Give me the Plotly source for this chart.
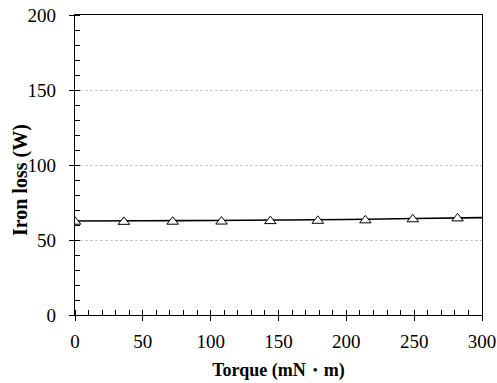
import plotly.graph_objects as go

torque = [0, 36, 72, 108, 144, 179, 214, 249, 282]
iron_loss = [62.2, 62.1, 62.2, 62.3, 62.6, 62.8, 63.1, 63.8, 64.4]
fit_x = [0, 50, 100, 150, 200, 250, 300]
fit_y = [62.7, 62.8, 63.0, 63.3, 63.7, 64.3, 64.9]

x_ticks = [0, 50, 100, 150, 200, 250, 300]
y_ticks = [0, 50, 100, 150, 200]

font = "Liberation Serif"

fig = go.Figure()
fig.add_trace(go.Scatter(x=fit_x, y=fit_y, mode="lines", line=dict(color="black", width=1.6),
                         line_shape="spline", showlegend=False, hoverinfo="skip"))
fig.add_trace(go.Scatter(x=torque, y=iron_loss, mode="markers",
                         marker=dict(symbol="triangle-up", size=10, color="white",
                                     line=dict(color="black", width=1)),
                         showlegend=False))
# invisible trace to carry the overlay axes (inner half of crossing major ticks)
fig.add_trace(go.Scatter(x=[0], y=[0], xaxis="x2", yaxis="y2", mode="markers",
                         marker=dict(opacity=0), showlegend=False, hoverinfo="skip"))

fig.update_layout(
    width=497, height=383,
    margin=dict(l=75, r=15, t=15, b=68),
    plot_bgcolor="white", paper_bgcolor="white",
    font=dict(family=font, size=19, color="black"),
    xaxis=dict(
        range=[0, 300], tickvals=x_ticks, ticks="outside", ticklen=5, tickcolor="black",
        showline=True, linecolor="black", linewidth=1.2, mirror=True,
        showgrid=False, zeroline=False, automargin=False,
        ticklabelstandoff=4, ticklabeloverflow="allow",
        minor=dict(dtick=10, ticks="inside", ticklen=5, tickcolor="black", showgrid=False),
        title=dict(text="<b>Torque (mN・m)</b>", font=dict(family=font, size=18), standoff=12),
        tickfont=dict(family=font, size=19),
    ),
    yaxis=dict(
        range=[0, 200], tickvals=y_ticks, ticks="outside", ticklen=5, tickcolor="black",
        showline=True, linecolor="black", linewidth=1.2, mirror=True,
        showgrid=True, gridcolor="#c8c8c8", griddash="3px,2px", gridwidth=1, zeroline=False,
        automargin=False, ticklabelstandoff=9, ticklabeloverflow="allow",
        minor=dict(dtick=10, ticks="inside", ticklen=5, tickcolor="black", showgrid=False),
        tickfont=dict(family=font, size=19),
    ),
    xaxis2=dict(overlaying="x", range=[0, 300], tickvals=x_ticks, ticks="inside", ticklen=5,
                tickcolor="black", showticklabels=False, showgrid=False, zeroline=False,
                showline=False, automargin=False),
    yaxis2=dict(overlaying="y", range=[0, 200], tickvals=y_ticks, ticks="inside", ticklen=5,
                tickcolor="black", showticklabels=False, showgrid=False, zeroline=False,
                showline=False, automargin=False),
    annotations=[dict(text="<b>Iron loss (W)</b>", xref="paper", yref="paper",
                      x=-0.135, y=0.45, textangle=-90, showarrow=False,
                      xanchor="center", yanchor="middle",
                      font=dict(family=font, size=20, color="black"))],
)

fig.write_html("out.html", config={"displayModeBar": False},
               post_script="document.body.style.margin='0';")
